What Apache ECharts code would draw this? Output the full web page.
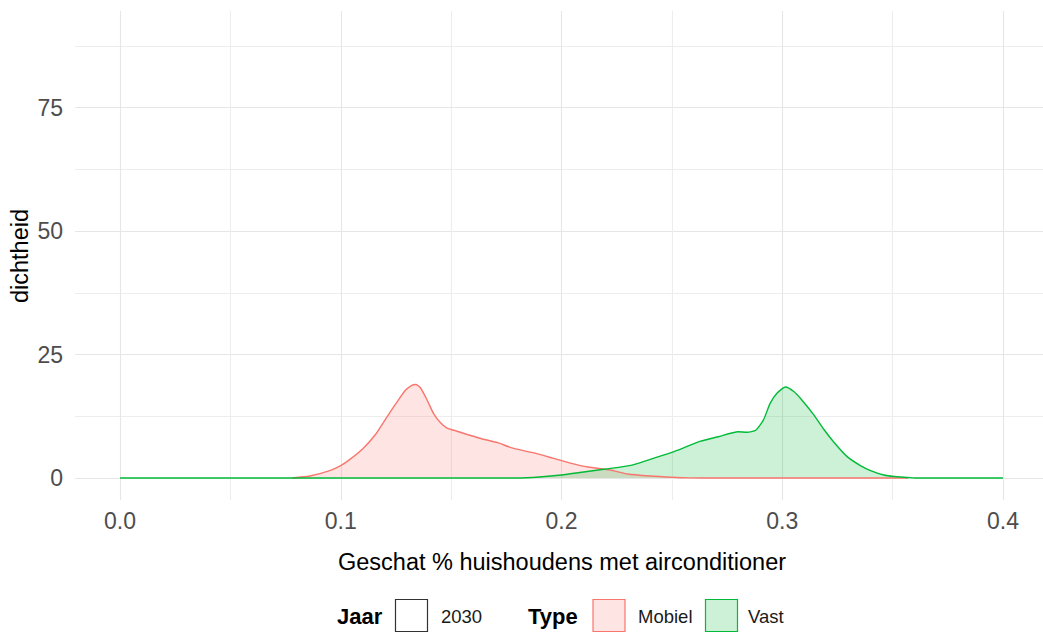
<!DOCTYPE html>
<html>
<head>
<meta charset="utf-8">
<script src="https://cdn.jsdelivr.net/npm/echarts@6/dist/echarts.min.js"></script>
<style>
  html, body { margin: 0; padding: 0; background: #fff; }
  #chart { width: 1043px; height: 633px; }
</style>
</head>
<body>
<div id="chart"></div>
<script>
// density estimates
const mobielX = [0.078, 0.086, 0.095, 0.100, 0.104, 0.110, 0.116, 0.122, 0.126, 0.129, 0.132, 0.134, 0.136, 0.139, 0.142, 0.145, 0.148, 0.152, 0.157, 0.163, 0.171, 0.178, 0.187, 0.196, 0.204, 0.212, 0.222, 0.230, 0.240, 0.250, 0.258, 0.270, 0.357]
const mobielY = [0, 0.4, 1.5, 2.5, 3.7, 5.9, 8.9, 13.0, 15.6, 17.5, 18.6, 18.8, 18.2, 15.8, 13.0, 11.2, 10.1, 9.5, 8.8, 8.0, 7.1, 6.0, 5.1, 4.0, 3.0, 2.2, 1.6, 0.8, 0.4, 0.15, 0.03, 0, 0]

const vastX = [0, 0.180, 0.190, 0.200, 0.210, 0.220, 0.232, 0.242, 0.251, 0.263, 0.271, 0.280, 0.284, 0.288, 0.2915, 0.2945, 0.2975, 0.3015, 0.3052, 0.3083, 0.3143, 0.3188, 0.3234, 0.3294, 0.3354, 0.340, 0.346, 0.3506, 0.357, 0.360, 0.400]
const vastY = [0, 0, 0.2, 0.6, 1.2, 1.8, 2.6, 4.0, 5.3, 7.4, 8.3, 9.3, 9.2, 9.6, 11.7, 15.0, 17.0, 18.3, 17.4, 16.0, 12.7, 9.8, 7.2, 4.3, 2.5, 1.5, 0.6, 0.3, 0.1, 0, 0]

const xTicks = [0, 0.05, 0.1, 0.15, 0.2, 0.25, 0.3, 0.35, 0.4]
const yTicks = [0, 12.5, 25, 37.5, 50, 62.5, 75, 87.5]

const FONT = "'Liberation Sans', Arial, sans-serif"
const RED = '#F8766D'
const GREEN = '#00BA38'
const MAJOR = '#E6E6E6'
const MINOR = '#EDEDED'

function pairs(xs, ys) {
  return xs.map((x, i) => [x, ys[i]])
}

const chart = echarts.init(document.getElementById('chart'), null, { renderer: 'svg' })

chart.setOption({
  animation: false,
  backgroundColor: '#fff',
  grid: [
    // full panel width, used for horizontal grid lines + y labels
    { left: 75, right: 0, top: 46, bottom: 155 },
    // data area, used for vertical grid lines + x labels + series
    { left: 120, right: 40, top: 11, bottom: 133 },
  ],
  xAxis: [
    { gridIndex: 0, type: 'value', min: 0, max: 1, show: false },
    {
      gridIndex: 1,
      type: 'value',
      min: xTicks[0],
      max: xTicks[xTicks.length - 1],
      interval: 0.05,
      axisLine: { show: false },
      axisTick: { show: false },
      axisLabel: {
        color: '#4D4D4D',
        fontFamily: FONT,
        fontSize: 23,
        margin: 9,
        showMinLabel: true,
        showMaxLabel: true,
        formatter: v => Math.abs(v * 10 - Math.round(v * 10)) < 1e-6 ? v.toFixed(1) : '',
      },
      splitLine: { show: true, lineStyle: { color: [MAJOR, MINOR], width: 1.1 } },
    },
  ],
  yAxis: [
    {
      gridIndex: 0,
      type: 'value',
      min: yTicks[0],
      max: yTicks[yTicks.length - 1],
      interval: 12.5,
      axisLine: { show: false },
      axisTick: { show: false },
      axisLabel: {
        color: '#4D4D4D',
        fontFamily: FONT,
        fontSize: 23,
        margin: 12,
        formatter: v => (v % 25 === 0 ? String(v) : ''),
      },
      splitLine: { show: true, lineStyle: { color: [MAJOR, MINOR], width: 1.1 } },
    },
    { gridIndex: 1, type: 'value', min: -4.425, max: 93.93, show: false },
  ],
  series: [
    {
      name: 'Mobiel',
      type: 'line',
      xAxisIndex: 1,
      yAxisIndex: 1,
      data: pairs(mobielX, mobielY),
      showSymbol: false,
      smooth: 0.2,
      lineStyle: { color: RED, width: 1.4 },
      itemStyle: { color: RED },
      areaStyle: { color: RED, opacity: 0.2 },
    },
    {
      name: 'Vast',
      type: 'line',
      xAxisIndex: 1,
      yAxisIndex: 1,
      data: pairs(vastX, vastY),
      showSymbol: false,
      smooth: 0.2,
      lineStyle: { color: GREEN, width: 1.4 },
      itemStyle: { color: GREEN },
      areaStyle: { color: GREEN, opacity: 0.2 },
    },
  ],
  graphic: [
    {
      type: 'text', x: 562, y: 562,
      style: { text: 'Geschat % huishoudens met airconditioner', fill: '#000', font: `23.5px ${FONT}`, align: 'center', verticalAlign: 'middle' },
    },
    {
      type: 'text', x: 20, y: 256, rotation: Math.PI / 2,
      style: { text: 'dichtheid', fill: '#000', font: `23.5px ${FONT}`, align: 'center', verticalAlign: 'middle' },
    },
    // legend
    { type: 'text', x: 337, y: 616, style: { text: 'Jaar', fill: '#000', font: `bold 22px ${FONT}`, verticalAlign: 'middle' } },
    { type: 'rect', shape: { x: 395.5, y: 599.5, width: 32, height: 32 }, style: { fill: '#fff', stroke: '#333', lineWidth: 1.2 } },
    { type: 'text', x: 441, y: 616, style: { text: '2030', fill: '#1a1a1a', font: `18.5px ${FONT}`, verticalAlign: 'middle' } },
    { type: 'text', x: 528, y: 616, style: { text: 'Type', fill: '#000', font: `bold 22px ${FONT}`, verticalAlign: 'middle' } },
    { type: 'rect', shape: { x: 593, y: 599.5, width: 32, height: 32 }, style: { fill: 'rgba(248,118,109,0.2)', stroke: RED, lineWidth: 1.2 } },
    { type: 'text', x: 638, y: 616, style: { text: 'Mobiel', fill: '#1a1a1a', font: `18.5px ${FONT}`, verticalAlign: 'middle' } },
    { type: 'rect', shape: { x: 705.5, y: 599.5, width: 32, height: 32 }, style: { fill: 'rgba(0,186,56,0.2)', stroke: GREEN, lineWidth: 1.2 } },
    { type: 'text', x: 748, y: 616, style: { text: 'Vast', fill: '#1a1a1a', font: `18.5px ${FONT}`, verticalAlign: 'middle' } },
  ],
})
</script>
</body>
</html>
